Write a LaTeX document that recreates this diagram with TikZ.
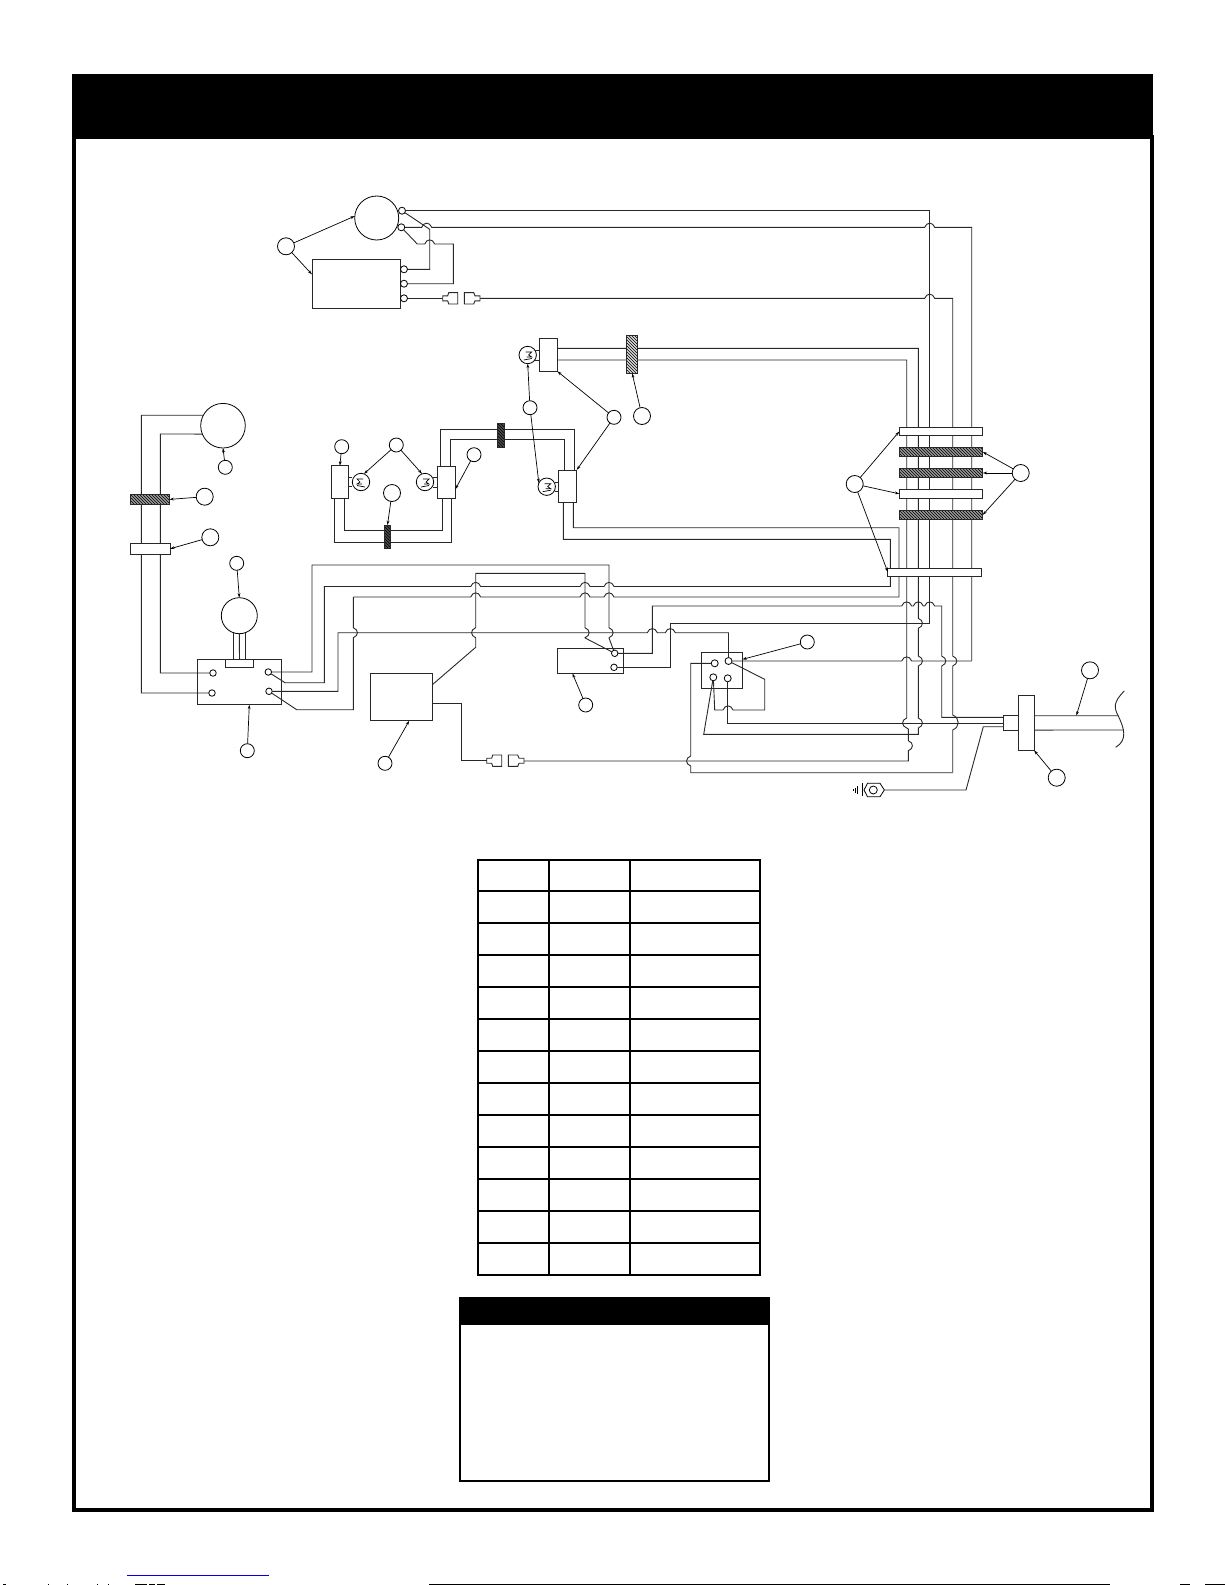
\documentclass[tikz,border=0pt]{standalone}
\usepackage{amsmath}
\usetikzlibrary{patterns, arrows.meta}

\begin{document}
\begin{tikzpicture}[
        x = 1pt,
        y = -1pt,
        >={Stealth[length = 4.5pt, width = 2.8pt]}
    ]

        \definecolor{wirecolor}{RGB}{40,40,40}
        \definecolor{inkblue}{RGB}{0,0,240}

        \tikzset{%
            wire/.style = {%
                draw           = wirecolor,
                line width     = 0.9pt,
                line join      = miter
            },
            leader/.style = {%
                draw           = black,
                line width     = 0.7pt,
                ->
            },
            part/.style = {%
                rectangle,
                draw           = wirecolor,
                line width     = 0.9pt,
                inner sep      = 0pt,
                outer sep      = 0pt
            },
            round part/.style = {%
                circle,
                draw           = black,
                line width     = 0.8pt,
                inner sep      = 0pt,
                outer sep      = 0pt
            },
            pin/.style = {round part, fill = white, minimum size = 7pt},
            lamp/.style = {round part, minimum size = 17.4pt},
            calloutbig/.style = {round part, fill = white, minimum size = 17pt},
            calloutsmall/.style = {round part, fill = white, minimum size = 14pt},
            hatchbar/.style = {%
                part,
                preaction      = {fill = black!40},
                pattern        = north west lines
            },
            lightbar/.style = {%
                part,
                preaction      = {fill = black!15},
                pattern        = north west lines
            },
            darkbar/.style = {%
                part,
                preaction      = {fill = black!70},
                pattern        = north west lines
            },
            plainbar/.style = {part, fill = white},
            tablerule/.style = {draw = black, line width = 2pt}
        }

        \newcommand{\hopup}[2]{-- ({#1-5},#2) .. controls ({#1-3},{#2-5.5}) and ({#1+3},{#2-5.5}) .. ({#1+5},#2)}
        \newcommand{\hopright}[2]{-- (#1,{#2-5}) .. controls ({#1+5.5},{#2-3}) and ({#1+5.5},{#2+3}) .. (#1,{#2+5})}
        \newcommand{\hopleft}[2]{-- (#1,{#2-5}) .. controls ({#1-5.5},{#2-3}) and ({#1-5.5},{#2+3}) .. (#1,{#2+5})}

        \useasboundingbox (0,0) rectangle (1225,1585);

    % Frame and heading band
    \draw[line width = 4pt] (74,137) rectangle (1152,1510);
    \fill (72,74) rectangle (1153,139);

    % Parts
    \node[round part, minimum size = 44pt] (smallmotor) at (376.7,218) {};
    \node[part, minimum width = 88.7pt, minimum height = 48.3pt] (controlbox) at (356.3,283.8) {};
    \node[pin] (mta) at (402,210.7) {};
    \node[pin] (mtb) at (401.3,227.3) {};
    \node[pin] (cta) at (404,269.3) {};
    \node[pin] (ctb) at (404,283.7) {};
    \node[pin] (ctc) at (404,298.3) {};

    \node[part, minimum width = 18pt, minimum height = 33pt] (sockettop) at (548.3,354.8) {};
    \node[lamp] (lamptop) at (527.7,355) {};
    \node[part, minimum width = 17.7pt, minimum height = 32.6pt] (socketl) at (339.9,482) {};
    \node[lamp] (lampl) at (361,482) {};
    \node[lamp] (lampm) at (425,482) {};
    \node[part, minimum width = 18pt, minimum height = 32pt] (socketm) at (446.3,482.3) {};
    \node[part, minimum width = 18pt, minimum height = 32.7pt] (socketr) at (567.7,486.3) {};
    \node[lamp] (lampr) at (546.7,486.7) {};

    \node[round part, minimum size = 44.6pt] (bigmotor) at (223,425.7) {};
    \node[round part, minimum size = 36pt] (fan) at (239.3,615.7) {};
    \node[part, minimum width = 83.7pt, minimum height = 45.4pt] (switchbox) at (239.2,682) {};
    \node[part, minimum width = 27.6pt, minimum height = 8pt] (fantab) at (239.5,663.3) {};
    \node[pin, minimum size = 6.5pt] (swa) at (213,673) {};
    \node[pin, minimum size = 6.5pt] (swb) at (212,693) {};
    \node[pin, minimum size = 6.5pt] (swc) at (268.3,672) {};
    \node[pin, minimum size = 6.5pt] (swd) at (269,691.3) {};

    \node[part, minimum width = 62.4pt, minimum height = 47.4pt] (timerbox) at (401.5,697) {};
    \node[part, minimum width = 65.6pt, minimum height = 25.3pt] (relay) at (590.5,660.7) {};
    \node[pin, minimum size = 6.5pt] (rla) at (614.7,653.3) {};
    \node[pin, minimum size = 6.5pt] (rlb) at (614,667.3) {};
    \node[part, minimum width = 41pt, minimum height = 36pt] (fusebox) at (721.8,670.3) {};
    \node[pin] (fua) at (714.7,663.3) {};
    \node[pin] (fub) at (728.5,661) {};
    \node[pin] (fuc) at (713.3,677.3) {};
    \node[pin] (fud) at (727.7,678.3) {};

    % Fan and lamp stubs
    \draw[wire] (fan.250) -- (fan.250 |- fantab.north);
    \draw[wire] (fan.south) -- (fantab.north);
    \draw[wire] (fan.290) -- (fan.290 |- fantab.north);
    \draw[wire] (535.3,350.7) -- (539.3,350.7);
    \draw[wire] (535.3,360) -- (539.3,360);
    \draw[wire] (348.7,477.3) -- (352.3,477.3);
    \draw[wire] (348.7,486.7) -- (352.3,486.7);
    \draw[wire] (433.3,477.7) -- (437.3,477.7);
    \draw[wire] (433.3,487.3) -- (437.3,487.3);
    \draw[wire] (555,482) -- (558.7,482);
    \draw[wire] (555,491.3) -- (558.7,491.3);

    \foreach \lx/\ly/\ls in {527.7/355/1, 361/482/-1, 425/482/1, 546.7/486.7/1} {
        \draw[line width = 0.7pt] ({\lx - 2*\ls}, \ly - 3) -- ({\lx + 4*\ls}, \ly - 3) -- ({\lx + 1*\ls}, \ly)
            -- ({\lx + 4*\ls}, \ly + 2) -- ({\lx - 1*\ls}, \ly + 2); % Filament
        \draw[line width = 0.7pt] ({\lx - 4*\ls}, \ly + 5) -- ({\lx + 4*\ls}, \ly + 3.5);
    }

    % Upper motor and control box wires
    \draw[wire] (mta) -- (929.7,210.7) -- (929.7,623.3) -- (670.3,623.3) -- (670.3,667.3) -- (rlb);
    \draw[wire] (mtb) -- (422,227.3) \hopup{426.7}{227.3} \hopup{929.7}{227.3} -- (971.7,227.3) -- (971.7,661);
    \draw[wire] (mta) -- (429.7,229.3) -- (429.7,269.3) -- (cta);
    \draw[wire] (mtb) -- (417.3,244) \hopup{429.7}{244} -- (453.3,244) -- (453.3,283.7) -- (ctb);
    \draw[wire] (ctc) -- (442.7,298.3);
    \draw[wire] (480,298.3) \hopup{929.7}{298.3} -- (952.7,298.3) \hopright{952.7}{661}
        -- (952.7,715) .. controls (960,718) and (960,727) .. (952.7,730) -- (952.7,772.7);
    \draw[wire] (fub) \hopup{906.7}{661} -- (971.7,661);

    % Plug pairs
    \foreach \px/\py in {442.7/298.3, 486.7/760.7} {
        \draw[wire, fill = white] (\px, \py - 2.5) -- (\px + 5, \py - 2.5) -- (\px + 6, \py - 5.7) -- (\px + 15, \py - 5.7)
            -- (\px + 15, \py + 5.7) -- (\px + 6, \py + 5.7) -- (\px + 5, \py + 2.5) -- (\px, \py + 2.5) -- cycle;
        \draw[wire, fill = white] (\px + 37.3, \py - 2.5) -- (\px + 32.3, \py - 2.5) -- (\px + 31, \py - 5.7) -- (\px + 21.6, \py - 5.7)
            -- (\px + 21.6, \py + 5.7) -- (\px + 31, \py + 5.7) -- (\px + 32.3, \py + 2.5) -- (\px + 37.3, \py + 2.5) -- cycle;
    }

    % Lamp wires
    \draw[wire] (557.3,348.3) -- (918.3,348.3) \hopright{918.3}{623.3} \hopright{918.3}{661} \hopright{918.3}{723}
        -- (918.3,734.3) -- (703.7,734.3) -- (fuc);
    \draw[wire] (557.3,360) -- (906.7,360) \hopleft{906.7}{723} -- (908.3,729) \hopright{908.3}{745.7} -- (908.3,761) -- (524,761);
    \draw[wire] (344.3,498.3) -- (344.3,530) -- (442,530) -- (442,498.3);
    \draw[wire] (334.3,498.3) -- (334.3,542.3) -- (451.7,542.3) -- (451.7,498.3);
    \draw[wire] (440.7,466.3) -- (440.7,429.3) -- (574,429.3) -- (574,470);
    \draw[wire] (450.3,466.3) -- (450.3,439.3) -- (564,439.3) -- (564,470);

    % Big motor wires
    \draw[wire] (bigmotor.152) -- (141.3,415.2) -- (141.3,693) -- (swb);
    \draw[wire] (bigmotor.202) -- (160.3,434) -- (160.3,673) -- (swa);

    % Switch box wires
    \draw[wire] (swc) -- (312,672) -- (312,565) -- (609,565) \hopright{609}{632.7} -- (609,638) -- (rla);
    \draw[wire] (swc) -- (285,682.7) -- (324.3,682.7) -- (324.3,586.5) \hopup{475.7}{586.5} \hopup{585}{586.5} \hopup{609}{586.5}
        -- (890.3,586.5) -- (890.3,539.3) -- (563.3,539.3) -- (563.3,502.7);
    \draw[wire] (353.3,597) \hopup{475.7}{597} \hopup{585}{597} \hopup{609}{597} -- (899,597) -- (899,527.7) -- (573.3,527.7) -- (573.3,502.7);
    \draw[wire] (353.3,597) \hopright{353.3}{632.7} -- (353.3,709.7) -- (296.7,709.7) -- (swd);
    \draw[wire] (swd) -- (338,691.3) -- (338,632.7) \hopup{652.3}{632.7} \hopup{670.3}{632.7} -- (728.5,632.7) -- (fub);

    % Timer box loop to relay
    \draw[wire] (475.7,573.3) \hopleft{475.7}{632.7} -- (475.7,647.3) -- (timerbox.22);
    \draw[wire] (475.7,573.3) -- (585,573.3) \hopright{585}{632.7} -- (585.7,638.3) -- (rla);
    \draw[wire] (432.7,703.3) -- (461.7,703.3) -- (461.7,760.7) -- (486.7,760.7);

    % Relay and fuse box wires
    \draw[wire] (rla) -- (652.3,653.3) -- (652.3,606) \hopup{906.7}{606} \hopup{918.3}{606} \hopup{929.7}{606} -- (941.7,606)
        \hopright{941.7}{661} -- (941.7,717.3) -- (1003.3,717.3);
    \draw[wire] (fua) -- (690.7,663.3) \hopleft{690.7}{761} -- (690.7,772.7) -- (952.7,772.7);
    \draw[wire] (fuc) -- (714.7,710) \hopup{728}{710} -- (764.7,710) -- (764.7,679.3) -- (fub);
    \draw[wire] (fud) -- (727.7,723.3) -- (1003.3,723.3);

    % Ground lug
    \node[draw, circle, line width = 0.8pt, inner sep = 0pt, outer sep = 0pt, minimum size = 8pt] (lug) at (873.3,790) {};
    \draw[line width = 0.8pt] (864,790) -- (867.5,783.3) -- (880,783.3) -- (884.3,790) -- (880,796.7) -- (867.5,796.7) -- cycle;
    \draw[line width = 0.8pt] (862.7,783) -- (862.7,796);
    \draw[line width = 0.8pt] (857.3,786) -- (857.3,794);
    \draw[line width = 0.8pt] (855.3,787.5) -- (855.3,792.5);
    \draw[line width = 0.8pt] (853.3,789) -- (853.3,791);
    \draw[wire] (884.3,790) -- (966,790) -- (983.3,726.7) -- (1003.3,726.7);

    % Cable end
    \node[part, fill = white, minimum width = 15pt, minimum height = 14.3pt] (collar) at (1010.8,722.9) {};
    \node[part, fill = white, minimum width = 15.7pt, minimum height = 54.6pt] (flange) at (1026.2,723) {};
    \draw[wire] (flange.east |- collar.north) -- (1118.3,715.7);
    \draw[wire] (flange.east |- collar.south) -- (1124,730);
    \draw[wire] (1124.3,691) .. controls (1113,702) and (1114,708) .. (1118.3,716)
        .. controls (1124,728) and (1128,740) .. (1115.7,747.3);
    \coordinate (cablemark) at (1076.3,715.7);

    % Strain relief bars
    \node[lightbar, minimum width = 11pt, minimum height = 38.3pt] (barlamp) at (632.2,354.2) {};
    \node[darkbar, minimum width = 6.5pt, minimum height = 23.3pt] (barlow) at (387.5,536.7) {};
    \node[darkbar, minimum width = 6.5pt, minimum height = 24pt] (barhigh) at (500.7,435.3) {};
    \node[hatchbar, minimum width = 39.3pt, minimum height = 10.7pt] (barleft) at (149.7,499.4) {};
    \node[plainbar, minimum width = 39.3pt, minimum height = 11pt] (barplain) at (150.4,548.8) {};
    \node[plainbar, minimum width = 83.4pt, minimum height = 8.4pt] (bara) at (941,431.5) {};
    \node[hatchbar, minimum width = 83.4pt, minimum height = 8.4pt] (barb) at (941,451.9) {};
    \node[hatchbar, minimum width = 83.4pt, minimum height = 8.6pt] (barc) at (941,473) {};
    \node[plainbar, minimum width = 83.4pt, minimum height = 9pt] (bard) at (941,493.8) {};
    \node[hatchbar, minimum width = 83.4pt, minimum height = 8.4pt] (bare) at (941,514.9) {};
    \node[plainbar, minimum width = 93.3pt, minimum height = 8pt] (barf) at (934.4,572) {};

    % Callouts and their leaders
    \node[calloutbig] (calla) at (286,246.3) {};
    \draw[leader] (calla) -- (smallmotor.175);
    \draw[leader] (calla) -- (controlbox.168);
    \node[calloutsmall] (callb) at (530,407.7) {};
    \draw[leader] (callb) -- (lamptop.south);
    \draw[leader] (callb) -- (lampr.155);
    \node[calloutsmall] (callc) at (614,417.3) {};
    \draw[leader] (callc) -- (sockettop.south east);
    \draw[leader] (callc) -- (socketr.north east);
    \node[calloutbig] (calld) at (642,416) {};
    \draw[leader] (calld) -- (barlamp.south);
    \node[calloutsmall] (calle) at (225.3,467.3) {};
    \draw[leader] (calle) -- (bigmotor.south);
    \node[calloutbig] (callf) at (204.7,496.7) {};
    \draw[leader] (callf) -- (barleft.east);
    \node[calloutbig] (callg) at (210.3,537.3) {};
    \draw[leader] (callg) -- (barplain.east);
    \node[calloutsmall] (callh) at (236.7,563.3) {};
    \draw[leader] (callh) -- (fan.north);
    \node[calloutsmall] (calli) at (247.3,750.7) {};
    \draw[leader] (calli) -- (switchbox.-66);
    \node[calloutsmall] (callj) at (341.7,446.7) {};
    \draw[leader] (callj) -- (socketl.north);
    \node[calloutsmall] (callk) at (396.3,445) {};
    \draw[leader] (callk) -- (lampl.70);
    \draw[leader] (callk) -- (lampm.110);
    \node[calloutsmall] (calll) at (474,454.7) {};
    \draw[leader] (calll) -- (socketm.-38);
    \node[calloutbig] (callm) at (392,493) {};
    \draw[leader] (callm) -- (barlow.north);
    \node[calloutsmall] (calln) at (385,763.3) {};
    \draw[leader] (calln) -- (timerbox.-72);
    \node[calloutsmall] (callo) at (585.7,705) {};
    \draw[leader] (callo) -- (relay.-145);
    \node[calloutsmall] (callp) at (807.3,642) {};
    \draw[leader] (callp) -- (fusebox.28);
    \node[calloutbig] (callq) at (854.7,484) {};
    \draw[leader] (callq) -- (bara.west);
    \draw[leader] (callq) -- (bard.west);
    \draw[leader] (callq) -- (barf.west);
    \node[calloutbig] (callr) at (1020.7,473) {};
    \draw[leader] (callr) -- (barb.east);
    \draw[leader] (callr) -- (barc.east);
    \draw[leader] (callr) -- (bare.east);
    \node[calloutbig] (calls) at (1090,670.3) {};
    \draw[leader] (calls) -- (cablemark);
    \node[calloutbig] (callt) at (1056.7,777.7) {};
    \draw[leader] (callt) -- (flange.south east);

    % Table
    \foreach \y in {860.4,890.6,922.9,954.7,986.9,1018.8,1050.6,1082.9,1114.7,1146.5,1178.8,1210.6,1242.9,1274.7} {
        \draw[tablerule] (476.7,\y) -- (761,\y);
    }
    \foreach \x in {477.7,549,630,760} {
        \draw[tablerule] (\x,860.4) -- (\x,1274.7);
    }

    % Note box
    \draw[tablerule] (460,1298) rectangle (769,1481);
    \fill (459,1297) rectangle (770,1324.5);

    % Page edge marks
    \draw[inkblue, line width = 1pt] (127,1575.3) -- (269,1575.3);
    \draw[line width = 1pt] (429,1584.5) -- (1110,1584.5);
    \foreach \ma/\mb in {3/6, 48/49, 67/68, 97/98, 108/109, 135/147, 149/155, 157/165, 1180/1190, 1205/1225} {
        \draw[line width = 1pt] (\ma,1584.5) -- (\mb,1584.5);
    }

\end{tikzpicture}
\end{document}
